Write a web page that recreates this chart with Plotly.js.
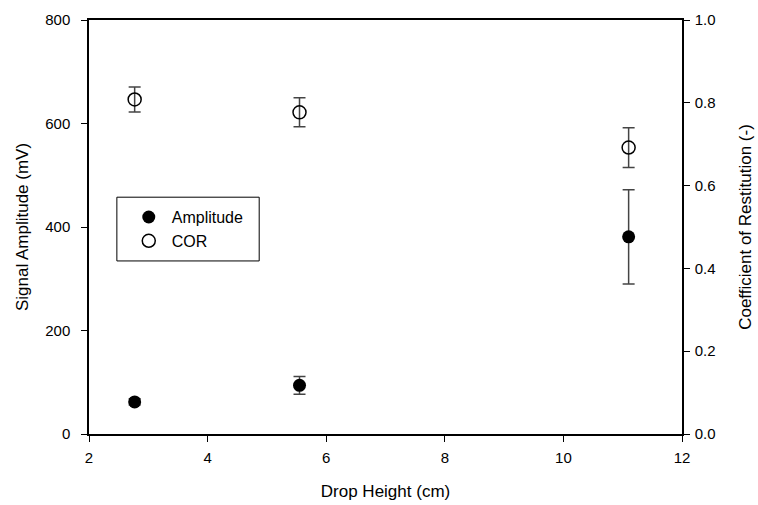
<!DOCTYPE html>
<html><head><meta charset="utf-8">
<script src="https://cdn.plot.ly/plotly-3.0.1.min.js"></script>
<style>html,body{margin:0;padding:0;background:#fff}#c{width:758px;height:505px}</style>
</head><body><div id="c"></div>
<script>
var heights = [2.77, 5.55, 11.1];
var amplitude = [62, 94, 381];
var amplitudeErr = [6, 17, 91];
var cor = [0.808, 0.777, 0.692];
var corErr = [0.03, 0.035, 0.048];

var font = 'Liberation Sans, Arial, sans-serif';
var traces = [
  {x: heights, y: amplitude, name: 'Amplitude', type: 'scatter', mode: 'markers',
   marker: {symbol: 'circle', size: 13, color: '#000'},
   error_y: {type: 'data', array: amplitudeErr, visible: true, color: '#444', thickness: 1.5, width: 6}},
  {x: heights, y: cor, name: 'COR', type: 'scatter', mode: 'markers', yaxis: 'y2',
   marker: {symbol: 'circle-open', size: 13, color: '#000', line: {width: 1.5, color: '#000'}},
   error_y: {type: 'data', array: corErr, visible: true, color: '#444', thickness: 1.5, width: 6}}
];
var axisCommon = {showgrid: false, zeroline: false, showline: true, linecolor: '#000', linewidth: 1.5,
                  ticks: 'outside', ticklen: 6, tickcolor: '#000', tickwidth: 1,
                  tickfont: {family: font, size: 15, color: '#000'}};
var layout = {
  width: 758, height: 505,
  margin: {l: 89, r: 76, t: 20, b: 71},
  paper_bgcolor: '#fff', plot_bgcolor: '#fff',
  font: {family: font, size: 15, color: '#000'},
  showlegend: true,
  legend: {x: 0.062, y: 0.565, xanchor: 'left', yanchor: 'top', bgcolor: 'rgba(0,0,0,0)',
           borderwidth: 0, itemwidth: 36, font: {family: font, size: 16, color: '#000'}, tracegroupgap: 0},
  xaxis: Object.assign({}, axisCommon, {range: [2, 12], tickvals: [2, 4, 6, 8, 10, 12], mirror: true,
          ticklabelstandoff: 3,
          title: {text: 'Drop Height (cm)', font: {size: 17}, standoff: 20}}),
  yaxis: Object.assign({}, axisCommon, {range: [0, 800], tickvals: [0, 200, 400, 600, 800],
          ticklabelstandoff: 8,
          title: {text: 'Signal Amplitude (mV)', font: {size: 17}, standoff: 12}}),
  yaxis2: Object.assign({}, axisCommon, {range: [0, 1], overlaying: 'y', side: 'right',
          tickvals: [0, 0.2, 0.4, 0.6, 0.8, 1.0], tickformat: '.1f', ticklabelstandoff: 2,
          title: {text: 'Coefficient of Restitution (-)', font: {size: 17}, standoff: 24}}),
  shapes: [{type: 'rect', xref: 'paper', yref: 'paper', x0: 0.047, x1: 0.287, y0: 0.418, y1: 0.572,
            line: {color: '#000', width: 1}}]
};
Plotly.newPlot('c', traces, layout, {displayModeBar: false});
</script></body></html>
